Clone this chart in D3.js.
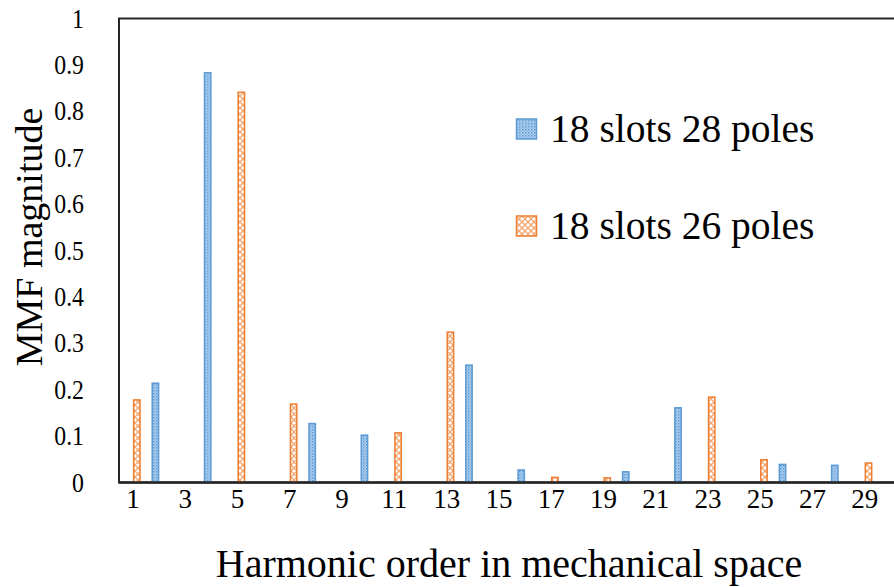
<!DOCTYPE html>
<html>
<head>
<meta charset="utf-8">
<script src="https://cdn.jsdelivr.net/npm/d3@7"></script>
<style>
  body { margin: 0; background: #fff; }
  svg { display: block; overflow: hidden; }
  text { font-family: "Liberation Serif", "Times New Roman", serif; fill: #000; }
</style>
</head>
<body>
<div id="chart"></div>
<script>
// harmonic orders on the x axis
var harmonics = [1, 2, 3, 4, 5, 6, 7, 8, 9, 10, 11, 12, 13, 14, 15, 16, 17, 18, 19, 20,
  21, 22, 23, 24, 25, 26, 27, 28, 29, 30];
var xTickLabels = [1, 3, 5, 7, 9, 11, 13, 15, 17, 19, 21, 23, 25, 27, 29];
var yTickLabels = [0, 0.1, 0.2, 0.3, 0.4, 0.5, 0.6, 0.7, 0.8, 0.9, 1];

// MMF magnitude per harmonic
var slots18poles28 = [0, 0.214, 0, 0.883, 0, 0, 0, 0.127, 0, 0.102, 0, 0, 0, 0.253, 0, 0.027, 0, 0, 0, 0.023,
  0, 0.161, 0, 0, 0, 0.039, 0, 0.037, 0, 0];
var slots18poles26 = [0.178, 0, 0, 0, 0.841, 0, 0.169, 0, 0, 0, 0.107, 0, 0.324, 0, 0, 0, 0.011, 0, 0.010, 0,
  0, 0, 0.184, 0, 0.049, 0, 0, 0, 0.042, 0];
var seriesNames = ["18 slots 28 poles", "18 slots 26 poles"];

var svgWidth = 894;
var svgHeight = 587;

var margin = { top: 18.5, left: 120 };
var step = 26.13;

var svg = d3.select("#chart")
  .append("svg")
  .attr("width", svgWidth)
  .attr("height", svgHeight);

// fill patterns (Excel style)
var defs = svg.append("defs");
var pBlue = defs.append("pattern")
  .attr("id", "blueDots")
  .attr("patternUnits", "userSpaceOnUse")
  .attr("width", 3).attr("height", 3);
pBlue.append("rect").attr("width", 3).attr("height", 3).attr("fill", "#b3d0ee");
pBlue.append("rect").attr("width", 1.5).attr("height", 1.5).attr("fill", "#5b9bd5");
pBlue.append("rect").attr("x", 1.5).attr("y", 1.5).attr("width", 1.5).attr("height", 1.5).attr("fill", "#8ab8e4");

var pOrange = defs.append("pattern")
  .attr("id", "orangeLattice")
  .attr("patternUnits", "userSpaceOnUse")
  .attr("width", 6).attr("height", 6);
pOrange.append("rect").attr("width", 6).attr("height", 6).attr("fill", "#fff");
pOrange.append("path")
  .attr("d", "M0,0L6,6M6,0L0,6")
  .attr("stroke", "#f4a870")
  .attr("stroke-width", 1.3);

var fills = ["url(#blueDots)", "url(#orangeLattice)"];
var strokes = ["#5b9bd5", "#ed7d31"];

// scales
var x = d3.scaleBand()
  .domain(harmonics)
  .range([margin.left, margin.left + step * harmonics.length]);

var xInner = d3.scaleBand()
  .domain(seriesNames)
  .range([5.5, step - 5.5]);

var y = d3.scaleLinear()
  .domain([0, 1])
  .range([482.5, margin.top]);

// plot frame
svg.append("rect")
  .attr("x", margin.left - 1)
  .attr("y", y(1))
  .attr("width", x.range()[1] - margin.left + 1)
  .attr("height", y(0) - y(1))
  .attr("fill", "none")
  .attr("stroke", "#262626")
  .attr("stroke-width", 2);

// bars
var seriesData = [slots18poles28, slots18poles26];
seriesData.forEach(function(vals, si) {
  svg.append("g")
    .selectAll("rect")
    .data(vals.map(function(v, i) { return { h: harmonics[i], v: v }; }).filter(d => d.v > 0))
    .enter()
    .append("rect")
    .attr("x", d => x(d.h) + xInner(seriesNames[si]) + 0.6)
    .attr("y", d => y(d.v))
    .attr("width", xInner.bandwidth() - 1.2)
    .attr("height", d => y(0) - y(d.v))
    .attr("fill", fills[si])
    .attr("stroke", strokes[si])
    .attr("stroke-width", 1.5);
});

// x axis baseline
svg.append("line")
  .attr("x1", margin.left - 1).attr("x2", svgWidth)
  .attr("y1", y(0)).attr("y2", y(0))
  .attr("stroke", "#262626")
  .attr("stroke-width", 2.5);

// axes
var bottomAxis = d3.axisBottom(x).tickValues(xTickLabels).tickSize(0).tickPadding(6);
var gx = svg.append("g")
  .attr("transform", `translate(0, ${y(0)})`)
  .call(bottomAxis);
gx.select(".domain").remove();
gx.selectAll("text")
  .style("font-family", "Liberation Serif")
  .style("font-size", "27px");

var leftAxis = d3.axisLeft(y).tickValues(yTickLabels).tickFormat(d3.format("")).tickSize(0).tickPadding(36);
var gy = svg.append("g")
  .attr("transform", `translate(${margin.left}, 0)`)
  .call(leftAxis);
gy.select(".domain").remove();
gy.selectAll("text")
  .style("font-family", "Liberation Serif")
  .style("font-size", "27px")
  .attr("transform", "scale(0.88, 1)")
  .attr("x", -36 / 0.88);

// axis titles
svg.append("text")
  .attr("x", 509)
  .attr("y", 577)
  .attr("text-anchor", "middle")
  .style("font-size", "40px")
  .text("Harmonic order in mechanical space");

svg.append("text")
  .attr("transform", "translate(42, 237) rotate(-90)")
  .attr("text-anchor", "middle")
  .style("font-size", "38px")
  .text("MMF magnitude");

// legend
var legend = svg.append("g");
seriesNames.forEach(function(name, i) {
  var ly = 119 + i * 97;
  legend.append("rect")
    .attr("x", 516.5).attr("y", ly)
    .attr("width", 20).attr("height", 20)
    .attr("fill", fills[i])
    .attr("stroke", strokes[i])
    .attr("stroke-width", 1.5);
  legend.append("text")
    .attr("x", 550)
    .attr("y", ly + 23)
    .style("font-size", "39.5px")
    .text(name);
});
</script>
</body>
</html>
